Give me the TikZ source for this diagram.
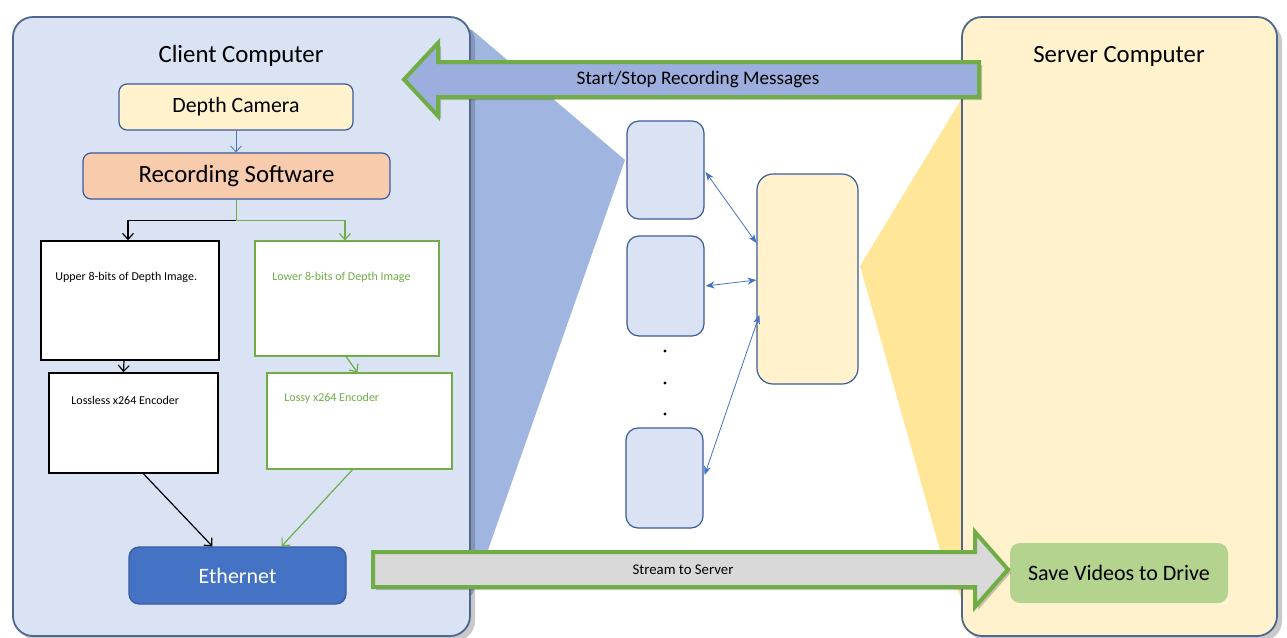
\documentclass[tikz,border=0pt]{standalone}
\usepackage{fontspec}
\setmainfont{Carlito}
\usetikzlibrary{arrows.meta,fit,calc,shadows}

\definecolor{clientfill}{HTML}{DAE3F3}
\definecolor{serverfill}{HTML}{FFF2CC}
\definecolor{panelline}{HTML}{4E6690}
\definecolor{cardline}{HTML}{3B5B9A}
\definecolor{grn}{HTML}{70AD47}
\definecolor{linkblue}{HTML}{4472C4}
\definecolor{funnelblue}{HTML}{A0B6E0}
\definecolor{funnelgold}{HTML}{FFE699}
\definecolor{camfill}{HTML}{FFF2CC}
\definecolor{recfill}{HTML}{F8CBAD}
\definecolor{ethfill}{HTML}{4472C4}
\definecolor{savefill}{HTML}{B4D38E}
\definecolor{msgfill}{HTML}{9CAEDD}
\definecolor{streamfill}{HTML}{D9D9D9}

\newcommand\setfs[1]{\fontsize{#1}{#1}\selectfont}

\tikzset{
  panel/.style={draw=panelline, line width=0.9pt, rounded corners=10pt, inner sep=0pt,
    drop shadow={shadow xshift=2.5pt, shadow yshift=-2.5pt, opacity=0.3, fill=black!70}},
  card/.style={draw=cardline, line width=0.6pt, rounded corners=4pt, inner sep=0pt},
  plainbox/.style={draw=black, line width=0.8pt, fill=white, inner sep=0pt},
  greenbox/.style={draw=grn, line width=0.6pt, fill=white, inner sep=0pt},
  boxnote/.style={anchor=west, inner sep=0pt, font=\setfs{6}},
  flow/.style={-{Straight Barb[length=3pt,width=5.5pt]}, line width=0.6pt},
  link/.style={{Stealth[length=4.5pt,width=3.5pt]}-{Stealth[length=4.5pt,width=3.5pt]},
    draw=linkblue, line width=0.4pt},
  blockarrow/.style={draw=grn, line width=2pt, line join=miter,
    drop shadow={shadow xshift=1.5pt, shadow yshift=-1.5pt, opacity=0.3, fill=black!70}},
  worker/.style={draw=cardline, fill=clientfill, line width=0.6pt, rounded corners=6pt, inner sep=0pt},
}

\begin{document}
\begin{tikzpicture}[x=0.5pt, y=-0.5pt]
\useasboundingbox (0,0) rectangle (1287,638);

% light beams behind the two computers
\fill[funnelblue] (450,26) -- (472,30) -- (625,160) -- (488,550) -- (472,595) -- (450,595) -- cycle;
\fill[funnelgold] (985,95) -- (962,98) -- (860,266) -- (940,550) -- (962,600) -- (985,600) -- cycle;

% computers
\node[panel, fill=clientfill, fit={(13,17) (470,636)}] (client) {};
\node[panel, fill=serverfill, fit={(962,17) (1277,636)}] (server) {};
\node[font=\setfs{12.4}] (clienttitle) at (241,56) {Client Computer};
\node[font=\setfs{12.4}] (servertitle) at (1119,56) {Server Computer};

% client pipeline
\node[card, fill=camfill, fit={(119,84) (353,130)}] (cam) {};
\node[font=\setfs{10.9}] (camtext) at (cam.center) {Depth Camera};
\node[card, fill=recfill, fit={(83,153) (390,199)}] (rec) {};
\node[font=\setfs{12.4}] (rectext) at (rec.center) {Recording Software};

\node[plainbox, fit={(41,241) (219,360)}] (upper) {};
\node[boxnote] (uppertext) at (55,277) {Upper 8-bits of Depth Image.};
\node[greenbox, fit={(255,241) (439,356)}] (lower) {};
\node[boxnote, text=grn] (lowertext) at (272,277) {Lower 8-bits of Depth Image};

\node[plainbox, fit={(49,373) (218,473)}] (lossless) {};
\node[boxnote] (losslesstext) at (71,400) {Lossless x264 Encoder};
\node[greenbox, fit={(267,373) (452,469)}] (lossy) {};
\node[boxnote, text=grn] (lossytext) at (284,398) {Lossy x264 Encoder};

\node[draw=cardline, fill=ethfill, line width=0.6pt, rounded corners=5pt, inner sep=0pt,
      fit={(129,547) (346,604)}] (eth) {};
\node[font=\setfs{11}, text=white] (ethtext) at (eth.center) {Ethernet};

% server side
\node[fill=savefill, rounded corners=5pt, inner sep=0pt, fit={(1010,543) (1228,603)}] (save) {};
\node[font=\setfs{11}] (savetext) at (save.center) {Save Videos to Drive};

% pipeline connectors
\draw[flow, draw=linkblue, line width=0.4pt] (cam.south) -- (cam.south |- rec.north);
\coordinate (split) at ($(rec.south)+(0,21)$);
\draw[flow, draw=black] (split) -| ($(upper.north)+(-2,0)$);
\draw[flow, draw=grn] (rec.south) -- (split) -| ($(lower.north)+(-2,0)$);
\draw[flow, draw=black] ($(upper.south)+(-6,0)$) -- ($(lossless.north)+(-10,0)$);
\draw[flow, draw=grn] ($(lower.south)+(-1,0)$) -- ($(lossy.north)+(-2,0)$);
\draw[flow, draw=black] ($(lossless.south)+(10,0)$) -- ($(eth.north)+(-25,0)$);
\draw[flow, draw=grn] ($(lossy.south)+(-7,0)$) -- ($(eth.north)+(44,0)$);

% worker processes and the recording coordinator
\node[worker, fit={(627,121) (704,219)}] (w1) {};
\node[worker, fit={(627,236) (704,336)}] (w2) {};
\node[worker, fit={(626,428) (703,528)}] (w3) {};
\node[draw=cardline, fill=serverfill, line width=0.6pt, rounded corners=8pt, inner sep=0pt,
      fit={(757,174) (858,384)}] (coord) {};
\fill (665,351) circle (1.6);
\fill (665,383) circle (1.6);
\fill (665,414) circle (1.6);
\draw[link] ($(w1.east)+(1,2)$) -- ($(coord.west)+(0,-36)$);
\draw[link] ($(w2.east)+(1,0)$) -- ($(coord.west)+(0,1)$);
\draw[link] ($(w3.east)+(1,-3)$) -- ($(coord.west)+(3,36)$);

% message arrow: server to client
\path[blockarrow, fill=msgfill]
  (979,62) -- (438,62) -- (438,43) -- (404,79.5) -- (438,116) -- (438,97) -- (979,97) -- cycle;
\node[font=\setfs{9.6}] (msgtext) at (698,79.5) {Start/Stop Recording Messages};

% stream arrow: client to server
\path[blockarrow, fill=streamfill]
  (373,552) -- (975,552) -- (975,532) -- (1008,569.5) -- (975,607) -- (975,587) -- (373,587) -- cycle;
\node[font=\setfs{7.4}] (streamtext) at (683,569.5) {Stream to Server};
\end{tikzpicture}
\end{document}
